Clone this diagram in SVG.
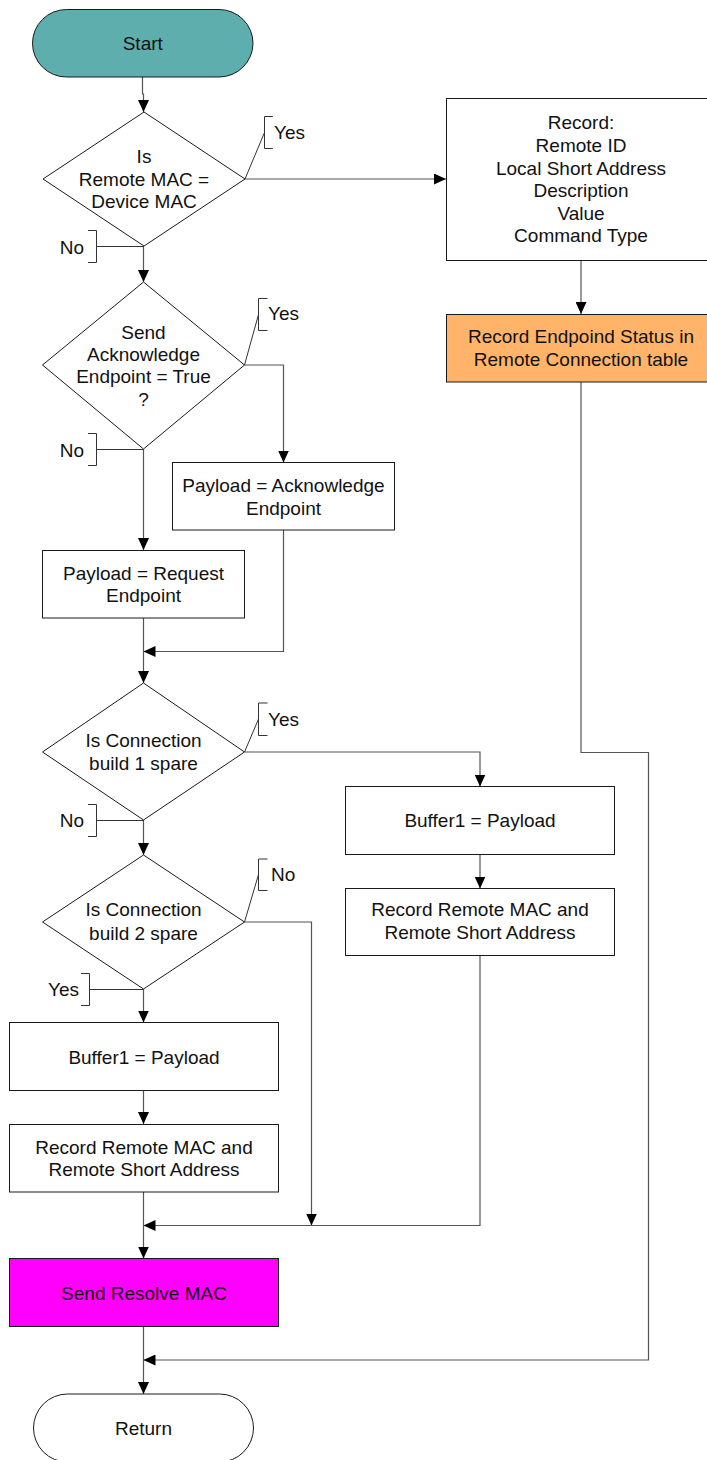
<svg xmlns="http://www.w3.org/2000/svg" width="707" height="1460" viewBox="0 0 707 1460">
  <style>
    .shape { stroke: #1a1a1a; stroke-width: 1; fill: #ffffff; }
    .conn { stroke: #555555; stroke-width: 1.2; fill: none; }
    .ann { stroke: #333333; stroke-width: 1; fill: none; }
    text { font-family: "Liberation Sans", Arial, sans-serif; font-size: 19px; fill: #111111; }
    .c { text-anchor: middle; }
    .r { text-anchor: end; }
  </style>
  <defs>
    <marker id="ah" markerWidth="12" markerHeight="11" refX="12" refY="5.5" orient="auto" markerUnits="userSpaceOnUse">
      <path d="M0,0 L12,5.5 L0,11 z" fill="#000000"/>
    </marker>
  </defs>

  <rect width="707" height="1460" fill="#ffffff"/>

  <!-- connectors -->
  <g id="connectors">
    <path class="conn" d="M142.5 77 V94 H143.5 V112" marker-end="url(#ah)"/>
    <path class="conn" d="M245 179 H446" marker-end="url(#ah)"/>
    <path class="conn" d="M581 260 V314" marker-end="url(#ah)"/>
    <path class="conn" d="M143.5 246 V282" marker-end="url(#ah)"/>
    <path class="conn" d="M244.5 365 H283.5 V462.5" marker-end="url(#ah)"/>
    <path class="conn" d="M143.5 449 V550" marker-end="url(#ah)"/>
    <path class="conn" d="M283.5 530 V651.5 H143.5" marker-end="url(#ah)"/>
    <path class="conn" d="M143.5 618 V683" marker-end="url(#ah)"/>
    <path class="conn" d="M244.5 752 H480 V786.5" marker-end="url(#ah)"/>
    <path class="conn" d="M480 854.5 V888.5" marker-end="url(#ah)"/>
    <path class="conn" d="M143.5 820 V855" marker-end="url(#ah)"/>
    <path class="conn" d="M143.5 989 V1022.5" marker-end="url(#ah)"/>
    <path class="conn" d="M143.5 1090.5 V1124" marker-end="url(#ah)"/>
    <path class="conn" d="M244.5 922 H311.5 V1225.5" marker-end="url(#ah)"/>
    <path class="conn" d="M480 955.5 V1225.5 H143.5" marker-end="url(#ah)"/>
    <path class="conn" d="M143.5 1192 V1258.5" marker-end="url(#ah)"/>
    <path class="conn" d="M143.5 1326.5 V1394" marker-end="url(#ah)"/>
    <path class="conn" d="M581 382 V752.5 H648.5 V1360 H143.5" marker-end="url(#ah)"/>

    <!-- branch annotations -->
    <path class="ann" d="M273 116.5 H264.5 V148.5 H273 M245 179 L264.5 132.5"/>
    <path class="ann" d="M88 230.5 H96.5 V262.5 H88 M96.5 246.5 H143.5"/>
    <path class="ann" d="M267.5 298.5 H258.5 V330.5 H267.5 M244.5 365 L258.5 314.5"/>
    <path class="ann" d="M88 433.5 H96.5 V465.5 H88 M96.5 449.5 H143.5"/>
    <path class="ann" d="M267.5 703 H258.5 V735.5 H267.5 M244.5 752 L258.5 719"/>
    <path class="ann" d="M88 804.5 H96.5 V836.5 H88 M96.5 820.5 H143.5"/>
    <path class="ann" d="M267.5 859 H258.5 V890.5 H267.5 M244.5 922 L258.5 874.5"/>
    <path class="ann" d="M81 973.5 H89.5 V1005.5 H81 M89.5 989.5 H143.5"/>
  </g>

  <g id="start">
    <rect class="shape" x="32.5" y="9.5" width="220.5" height="67.5" rx="34" ry="34" style="fill:#5eaeae"/>
    <text class="c" x="142.75" y="50">Start</text>
  </g>

  <g id="check-mac">
    <polygon class="shape" points="144,112 245,179 144,246 43,179"/>
    <text class="c" x="144" y="163">Is</text>
    <text class="c" x="144" y="186">Remote MAC =</text>
    <text class="c" x="144" y="208">Device MAC</text>
    <text x="274" y="139">Yes</text>
    <text class="r" x="84" y="254">No</text>
  </g>

  <g id="record-info">
    <rect class="shape" x="446.5" y="98.5" width="262" height="162"/>
    <text class="c" x="581" y="129">Record:</text>
    <text class="c" x="581" y="151.5">Remote ID</text>
    <text class="c" x="581" y="174.5">Local Short Address</text>
    <text class="c" x="581" y="197">Description</text>
    <text class="c" x="581" y="219.5">Value</text>
    <text class="c" x="581" y="242">Command Type</text>
  </g>

  <g id="record-status">
    <rect class="shape" x="446.5" y="314.5" width="262" height="67.5" style="fill:#ffb469"/>
    <text class="c" x="581" y="343">Record Endpoind Status in</text>
    <text class="c" x="581" y="365.5">Remote Connection table</text>
  </g>

  <g id="check-ack">
    <polygon class="shape" points="143.5,282 244.5,365 143.5,449 42.5,365"/>
    <text class="c" x="143.5" y="338.5">Send</text>
    <text class="c" x="143.5" y="360.5">Acknowledge</text>
    <text class="c" x="143.5" y="383">Endpoint = True</text>
    <text class="c" x="143.5" y="406">?</text>
    <text x="268" y="320">Yes</text>
    <text class="r" x="84" y="456.5">No</text>
  </g>

  <g id="payload-ack">
    <rect class="shape" x="172.5" y="462.5" width="222" height="67.5"/>
    <text class="c" x="283.5" y="492">Payload = Acknowledge</text>
    <text class="c" x="283.5" y="514.5">Endpoint</text>
  </g>

  <g id="payload-request">
    <rect class="shape" x="42.5" y="550.5" width="202" height="67.5"/>
    <text class="c" x="143.5" y="579.5">Payload = Request</text>
    <text class="c" x="143.5" y="602">Endpoint</text>
  </g>

  <g id="check-conn1">
    <polygon class="shape" points="143.5,683 244.5,752 143.5,820 42.5,752"/>
    <text class="c" x="143.5" y="747">Is Connection</text>
    <text class="c" x="143.5" y="769.5">build 1 spare</text>
    <text x="268" y="726">Yes</text>
    <text class="r" x="84" y="827">No</text>
  </g>

  <g id="buffer-right">
    <rect class="shape" x="345.5" y="786.5" width="269" height="68"/>
    <text class="c" x="480" y="826.5">Buffer1 = Payload</text>
  </g>

  <g id="record-mac-right">
    <rect class="shape" x="345.5" y="888.5" width="269" height="67"/>
    <text class="c" x="480" y="916">Record Remote MAC and</text>
    <text class="c" x="480" y="939">Remote Short Address</text>
  </g>

  <g id="check-conn2">
    <polygon class="shape" points="143.5,855 244.5,922 143.5,989 42.5,922"/>
    <text class="c" x="143.5" y="916">Is Connection</text>
    <text class="c" x="143.5" y="939.5">build 2 spare</text>
    <text x="271" y="880.5">No</text>
    <text class="r" x="79" y="995.5">Yes</text>
  </g>

  <g id="buffer-left">
    <rect class="shape" x="9.5" y="1022.5" width="269" height="68"/>
    <text class="c" x="144" y="1063.5">Buffer1 = Payload</text>
  </g>

  <g id="record-mac-left">
    <rect class="shape" x="9.5" y="1124.5" width="269" height="67.5"/>
    <text class="c" x="144" y="1153.5">Record Remote MAC and</text>
    <text class="c" x="144" y="1175.5">Remote Short Address</text>
  </g>

  <g id="send-resolve">
    <rect class="shape" x="9.5" y="1258.5" width="269" height="68" style="fill:#ff00ff"/>
    <text class="c" x="144" y="1299.5">Send Resolve MAC</text>
  </g>

  <g id="return">
    <rect class="shape" x="33.5" y="1394" width="220" height="68" rx="34" ry="34"/>
    <text class="c" x="143.5" y="1435">Return</text>
  </g>
</svg>
